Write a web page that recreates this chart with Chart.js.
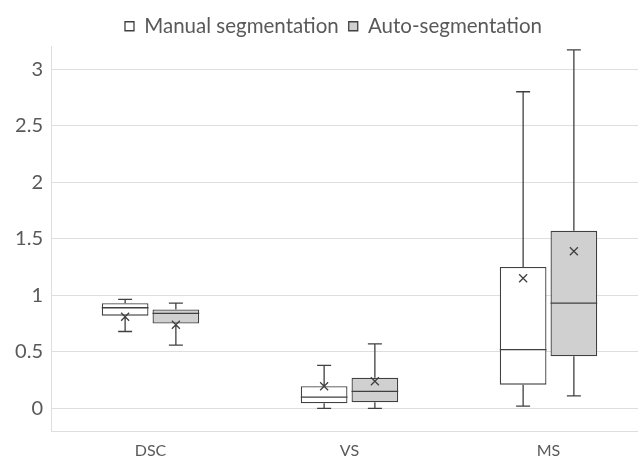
<!DOCTYPE html>
<html>
<head>
<meta charset="utf-8">
<script src="https://cdn.jsdelivr.net/npm/chart.js@4/dist/chart.umd.min.js"></script>
<style>
  html, body { margin: 0; padding: 0; background: #fff; overflow: hidden; }
  #wrap { width: 638px; height: 463px; overflow: hidden; }
  #box { width: 668px; height: 463px; }
</style>
</head>
<body>
<div id="wrap"><div id="box"><canvas id="Chart"></canvas></div></div>
<script>
// categories and the two series
var categories = ["DSC", "VS", "MS"];
var seriesNames = ["Manual segmentation", "Auto-segmentation"];
var yTicks = [0, 0.5, 1, 1.5, 2, 2.5, 3];

// manual segmentation: min, q1, median, q3, max, mean
var manualMin = [0.68, 0.00, 0.02];
var manualQ1 = [0.82, 0.045, 0.21];
var manualMedian = [0.89, 0.10, 0.52];
var manualQ3 = [0.93, 0.196, 1.25];
var manualMax = [0.964, 0.38, 2.80];
var manualMean = [0.81, 0.196, 1.15];

// auto-segmentation
var autoMin = [0.56, 0.00, 0.11];
var autoQ1 = [0.75, 0.055, 0.46];
var autoMedian = [0.84, 0.15, 0.93];
var autoQ3 = [0.875, 0.27, 1.57];
var autoMax = [0.93, 0.57, 3.17];
var autoMean = [0.74, 0.24, 1.39];

var stats = [
    { min: manualMin, median: manualMedian, max: manualMax, mean: manualMean },
    { min: autoMin, median: autoMedian, max: autoMax, mean: autoMean }
];

//the floating bars are the boxes, q1 to q3
var manualBoxes = categories.map((c, i) => [manualQ1[i], manualQ3[i]]);
var autoBoxes = categories.map((c, i) => [autoQ1[i], autoQ3[i]]);

var lineColour = '#404040';
var textColour = '#595959';
var gridColour = '#dedede';

//draws whiskers, median line and the mean cross on top of every box
var boxPlugin = {
    id: 'boxExtras',
    afterDatasetsDraw(chart) {
        var ctx = chart.ctx;
        var y = chart.scales.y;
        ctx.save();
        ctx.strokeStyle = lineColour;
        ctx.lineWidth = 1.3;
        chart.data.datasets.forEach((ds, d) => {
            var meta = chart.getDatasetMeta(d);
            var s = stats[d];
            meta.data.forEach((bar, i) => {
                var x = bar.x;
                var half = bar.width / 2;
                var top = y.getPixelForValue(ds.data[i][1]);
                var bottom = y.getPixelForValue(ds.data[i][0]);
                var yMax = y.getPixelForValue(s.max[i]);
                var yMin = y.getPixelForValue(s.min[i]);
                var yMed = y.getPixelForValue(s.median[i]);
                var yMean = y.getPixelForValue(s.mean[i]);
                ctx.beginPath();
                // whiskers
                ctx.moveTo(x, top); ctx.lineTo(x, yMax);
                ctx.moveTo(x - 7, yMax); ctx.lineTo(x + 7, yMax);
                ctx.moveTo(x, bottom); ctx.lineTo(x, yMin);
                ctx.moveTo(x - 7, yMin); ctx.lineTo(x + 7, yMin);
                // median
                ctx.moveTo(x - half, yMed); ctx.lineTo(x + half, yMed);
                // mean cross
                ctx.moveTo(x - 4, yMean - 4); ctx.lineTo(x + 4, yMean + 4);
                ctx.moveTo(x - 4, yMean + 4); ctx.lineTo(x + 4, yMean - 4);
                ctx.stroke();
            });
        });
        ctx.restore();
    }
};

//the legend sits a little right of centre in the original, nudge it over
var legendNudge = {
    id: 'legendNudge',
    afterLayout(chart) {
        chart.legend.left += 6;
        chart.legend.right += 6;
    }
};

Chart.defaults.font.family = 'Lato, "Open Sans", sans-serif';
Chart.defaults.color = textColour;

var ctx = document.getElementById('Chart').getContext('2d');
var chart = new Chart(ctx, {
    type: 'bar',
    data: {
        labels: categories,
        datasets: [{
            label: seriesNames[0],
            data: manualBoxes,
            backgroundColor: '#ffffff',
            borderColor: lineColour,
            borderWidth: 1.3,
            borderSkipped: false,
            categoryPercentage: 0.51,
            barPercentage: 0.92
        }, {
            label: seriesNames[1],
            data: autoBoxes,
            backgroundColor: '#d0d0d0',
            borderColor: lineColour,
            borderWidth: 1.3,
            borderSkipped: false,
            categoryPercentage: 0.51,
            barPercentage: 0.92
        }]
    },
    options: {
        responsive: true,
        maintainAspectRatio: false,
        animation: false,
        layout: { padding: { left: 7, right: 20, top: 6, bottom: 0 } },
        plugins: {
            tooltip: { enabled: false },
            legend: {
                position: 'top',
                labels: {
                    boxWidth: 9,
                    boxHeight: 9,
                    padding: 10,
                    color: textColour,
                    font: { size: 20.5 }
                }
            }
        },
        scales: {
            x: {
                grid: { display: false },
                border: { color: gridColour },
                ticks: { font: { size: 16, lineHeight: 1 }, padding: 4 }
            },
            y: {
                min: -0.2,
                max: 3.2,
                afterBuildTicks: scale => {
                    scale.ticks = yTicks.map(v => ({ value: v }));
                },
                afterFit: scale => {
                    scale.width = 44;
                },
                grid: { color: gridColour, drawTicks: false },
                border: { color: gridColour },
                ticks: { font: { size: 20 }, padding: 8, callback: v => String(v) }
            }
        }
    },
    plugins: [boxPlugin, legendNudge]
});
</script>
</body>
</html>
